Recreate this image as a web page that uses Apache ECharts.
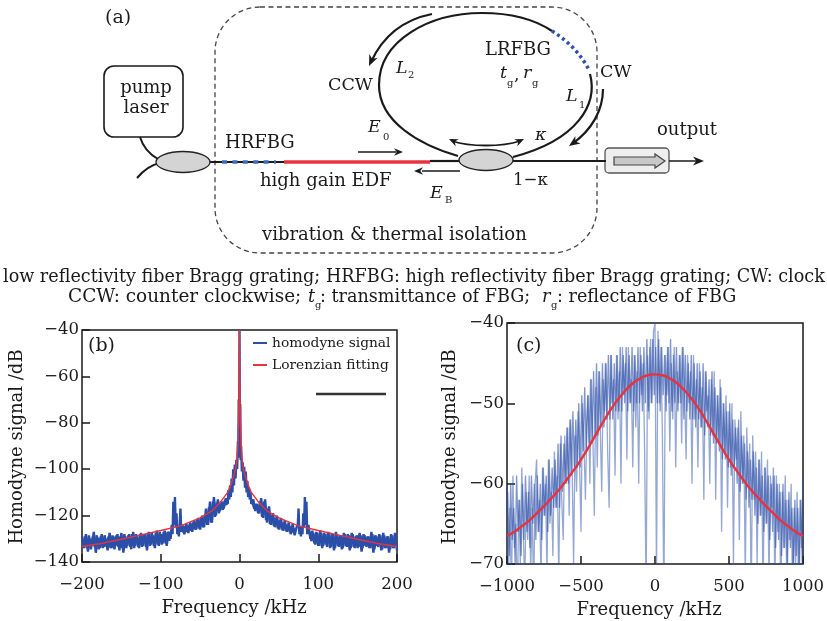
<!DOCTYPE html>
<html><head><meta charset="utf-8">
<style>html,body{margin:0;padding:0;background:#fff}#c{width:827px;height:621px}</style>
<script src="https://cdn.jsdelivr.net/npm/echarts@6/dist/echarts.min.js"></script>
</head><body><div id="c"></div>
<script>
const FONT='DejaVu Serif';
const homodyneB=[[-200,-129],[-197.5,-134],[-195,-128],[-192.5,-135.5],[-190,-130],[-187.5,-133],[-185,-127],[-182.5,-136],[-180,-129.5],[-177.5,-134],[-175,-128],[-172.5,-133.5],[-170,-130],[-167.5,-135],[-165,-127.5],[-162.5,-134],[-160,-129],[-157.5,-133],[-155,-128],[-152.5,-135],[-150,-127.5],[-147.5,-136],[-145,-129],[-142.5,-133],[-140,-128],[-137.5,-134.5],[-135,-127],[-132.5,-133],[-130,-129],[-127.5,-134],[-125,-127.5],[-122.5,-133],[-120,-128],[-117.5,-135],[-115,-127],[-112.5,-132.5],[-110,-128.5],[-107.5,-134],[-105,-126.5],[-102.5,-133],[-100,-128],[-97.5,-132],[-95,-126.5],[-92.5,-133],[-90,-127],[-87.5,-130],[-86,-124],[-85,-128],[-84,-114],[-83,-124],[-82,-112],[-81,-125],[-80,-119],[-79,-128],[-78,-125],[-77,-129],[-76,-124],[-75,-117],[-74,-127],[-72.5,-124],[-70,-128],[-67.5,-123.5],[-65,-127.5],[-62.5,-123],[-60,-127],[-57.5,-122],[-55,-126],[-52.5,-121],[-50,-126],[-47.5,-120],[-45,-125],[-42.5,-117],[-40,-124],[-37.5,-114],[-35,-123],[-32.5,-112],[-30,-120],[-27.5,-113],[-25,-118],[-22.5,-114],[-20,-117],[-17.5,-112.5],[-15,-115],[-14,-109],[-13,-113],[-12,-107],[-11,-112],[-10,-104],[-9,-110],[-8,-100],[-7,-107],[-6,-98],[-5,-104],[-4,-96],[-3,-100],[-2,-88],[-1.5,-95],[-1,-70],[-0.5,-85],[0,-40],[0.5,-85],[1,-72],[1.5,-96],[2,-90],[3,-101],[4,-97],[5,-105],[6,-99],[7,-108],[8,-101],[9,-110],[10,-105],[11,-112],[12,-108],[13,-113],[14,-110],[15,-115],[17.5,-113],[20,-118],[22.5,-115],[25,-119],[27.5,-112.5],[30,-121],[32.5,-113],[35,-123],[37.5,-116],[40,-124],[42.5,-119],[45,-125],[47.5,-120],[50,-126],[52.5,-121],[55,-126.5],[57.5,-122],[60,-127],[62.5,-123],[65,-128],[67.5,-123.5],[70,-128.5],[72.5,-125],[74,-124],[75,-117],[76,-128],[77,-125],[78,-129],[79,-125],[80,-128],[81,-119],[82,-125],[83,-112],[84,-124],[85,-114],[86,-128],[87.5,-124],[90,-130],[92.5,-126.5],[95,-132],[97.5,-127],[100,-133],[102.5,-126.5],[105,-134],[107.5,-127.5],[110,-132.5],[112.5,-127],[115,-134],[117.5,-128],[120,-135],[122.5,-127],[125,-133],[127.5,-128.5],[130,-134.5],[132.5,-127.5],[135,-133],[137.5,-128],[140,-135],[142.5,-127.5],[145,-133.5],[147.5,-129],[150,-134],[152.5,-127.5],[155,-135.5],[157.5,-128],[160,-133],[162.5,-129],[165,-134],[167.5,-127],[170,-136],[172.5,-128.5],[175,-133],[177.5,-128],[180,-135],[182.5,-127.5],[185,-134],[187.5,-129],[190,-136],[192.5,-128],[195,-134],[197.5,-127.5],[200,-135]];
const coreLeftB=[[-198.75,-134],[-196.25,-129],[-193.75,-134],[-191.25,-128.5],[-188.75,-134.5],[-186.25,-129],[-183.75,-133.5],[-181.25,-128.5],[-178.75,-134.5],[-176.25,-129],[-173.75,-134],[-171.25,-128.5],[-168.75,-133.5],[-166.25,-129],[-163.75,-134],[-161.25,-128.5],[-158.75,-134.5],[-156.25,-128.5],[-153.75,-133.5],[-151.25,-129],[-148.75,-134],[-146.25,-128],[-143.75,-134],[-141.25,-128.5],[-138.75,-133.5],[-136.25,-128],[-133.75,-134],[-131.25,-128],[-128.75,-133.5],[-126.25,-128],[-123.75,-133.5],[-121.25,-128],[-118.75,-133.5],[-116.25,-127.5],[-113.75,-133],[-111.25,-127.5],[-108.75,-133],[-106.25,-127.5],[-103.75,-132.5],[-101.25,-127],[-98.75,-132.5],[-96.25,-127],[-93.75,-132],[-91.25,-127],[-88.75,-131],[-80,'-'],[-71.25,-127.5],[-68.75,-124.5],[-66.25,-127],[-63.75,-124],[-61.25,-126.5],[-58.75,-123],[-56.25,-126],[-53.75,-122],[-51.25,-125.5],[-48.75,-121],[-46.25,-125],[-43.75,-119.5],[-41.25,-124],[-38.75,-116.5],[-36.25,-123],[-33.75,-114],[-31.25,-120.5],[-28.75,-114.5],[-26.25,-119],[-23.75,-115],[-21.25,-117.5],[-18.75,-113.5],[-16.25,-115.5]];
const coreRightB=[[16.25,-114],[18.75,-117],[21.25,-115],[23.75,-119],[26.25,-114],[28.75,-120.5],[31.25,-114],[33.75,-122],[36.25,-117],[38.75,-123.5],[41.25,-120],[43.75,-124.5],[46.25,-121],[48.75,-125.5],[51.25,-122],[53.75,-126],[56.25,-123],[58.75,-126.5],[61.25,-124],[63.75,-127],[66.25,-124.5],[68.75,-127.5],[71.25,-125.5],[80,'-'],[88.75,-127],[91.25,-131],[93.75,-127.5],[96.25,-132.5],[98.75,-127.5],[101.25,-133],[103.75,-127.5],[106.25,-133],[108.75,-128],[111.25,-133.5],[113.75,-127.5],[116.25,-133.5],[118.75,-128],[121.25,-134],[123.75,-128],[126.25,-133.5],[128.75,-128.5],[131.25,-134],[133.75,-128],[136.25,-133.5],[138.75,-128.5],[141.25,-134],[143.75,-128],[146.25,-134],[148.75,-128.5],[151.25,-133.5],[153.75,-128.5],[156.25,-134],[158.75,-128.5],[161.25,-133.5],[163.75,-129],[166.25,-134],[168.75,-128],[171.25,-134.5],[173.75,-129],[176.25,-133.5],[178.75,-128.5],[181.25,-134.5],[183.75,-128.5],[186.25,-134],[188.75,-129],[191.25,-134.5],[193.75,-128.5],[196.25,-134],[198.75,-128.5]];
const fitB=[[-200,-133.3],[-175,-132],[-150,-130.2],[-125,-128.3],[-100,-126.4],[-75,-124.4],[-50,-121],[-35,-118],[-25,-114.5],[-15,-110],[-10,-106],[-5,-100],[-3,-95],[-2,-89],[-1,-78],[-0.5,-65],[0,-40],[0.5,-65],[1,-78],[2,-89],[3,-95],[5,-100],[10,-106],[15,-110],[25,-114.5],[35,-118],[50,-121],[75,-124.4],[100,-126.4],[125,-128.3],[150,-130.2],[175,-132],[200,-133.3]];
const freqC=[-1000,-990,-980,-970,-960,-950,-940,-930,-920,-910,-900,-890,-880,-870,-860,-850,-840,-830,-820,-810,-800,-790,-780,-770,-760,-750,-740,-730,-720,-710,-700,-690,-680,-670,-660,-650,-640,-630,-620,-610,-600,-590,-580,-570,-560,-550,-540,-530,-520,-510,-500,-490,-480,-470,-460,-450,-440,-430,-420,-410,-400,-390,-380,-370,-360,-350,-340,-330,-320,-310,-300,-290,-280,-270,-260,-250,-240,-230,-220,-210,-200,-190,-180,-170,-160,-150,-140,-130,-120,-110,-100,-90,-80,-70,-60,-50,-40,-30,-20,-10,0,10,20,30,40,50,60,70,80,90,100,110,120,130,140,150,160,170,180,190,200,210,220,230,240,250,260,270,280,290,300,310,320,330,340,350,360,370,380,390,400,410,420,430,440,450,460,470,480,490,500,510,520,530,540,550,560,570,580,590,600,610,620,630,640,650,660,670,680,690,700,710,720,730,740,750,760,770,780,790,800,810,820,830,840,850,860,870,880,890,900,910,920,930,940,950,960,970,980,990,1000];
const signalC=[-60,-72,-63,-74,-59,-68,-65,-75,-62,-70,-58,-66,-73,-61,-67,-59,-71,-63,-74,-60,
-57,-66,-62,-72,-58,-64,-60,-71,-57,-65,-61,-69,-56,-63,-59,-72,-55,-62,-67,-54,
-60,-53,-64,-52,-58,-70,-54,-61,-51,-57,-66,-50,-55,-62,-52,-49,-60,-47,-54,-64,
-48,-58,-46,-53,-61,-47,-51,-45,-56,-63,-44,-50,-47,-59,-44,-52,-46,-60,-43,-49,
-45,-57,-43,-50,-47,-58,-44,-53,-46,-60,-43,-49,-45,-56,-74,-44,-52,-42,-50,-41,
-40,
-72,-41,-50,-43,-54,-75,-44,-49,-43,-56,-45,-52,-43,-58,-46,-50,-44,-55,-43,-48,
-57,-44,-50,-46,-60,-44,-52,-47,-58,-45,-53,-48,-62,-46,-51,-49,-60,-47,-54,-46,
-62,-49,-55,-47,-66,-50,-56,-49,-63,-51,-58,-50,-70,-52,-57,-53,-67,-51,-60,-54,
-72,-53,-60,-55,-75,-54,-62,-56,-70,-57,-64,-56,-74,-58,-65,-57,-72,-59,-63,-58,
-73,-59,-66,-60,-75,-61,-68,-59,-72,-62,-67,-60,-75,-63,-70,-61,-74,-62,-68,-59];
const freqCoreC=[-995,-985,-975,-965,-955,-945,-935,-925,-915,-905,-895,-885,-875,-865,-855,-845,-835,-825,-815,-805,-795,-785,-775,-765,-755,-745,-735,-725,-715,-705,-695,-685,-675,-665,-655,-645,-635,-625,-615,-605,-595,-585,-575,-565,-555,-545,-535,-525,-515,-505,-495,-485,-475,-465,-455,-445,-435,-425,-415,-405,-395,-385,-375,-365,-355,-345,-335,-325,-315,-305,-295,-285,-275,-265,-255,-245,-235,-225,-215,-205,-195,-185,-175,-165,-155,-145,-135,-125,-115,-105,-95,-85,-75,-65,-55,-45,-35,-25,-15,-5,5,15,25,35,45,55,65,75,85,95,105,115,125,135,145,155,165,175,185,195,205,215,225,235,245,255,265,275,285,295,305,315,325,335,345,355,365,375,385,395,405,415,425,435,445,455,465,475,485,495,505,515,525,535,545,555,565,575,585,595,605,615,625,635,645,655,665,675,685,695,705,715,725,735,745,755,765,775,785,795,805,815,825,835,845,855,865,875,885,895,905,915,925,935,945,955,965,975,985,995];
const coreC=[-61,-69,-60,-67,-63,-70,-59,-66,-62,-69,-60,-67,-59,-66,-61,-68,-59,-65,-60,-67,
-59,-66,-60,-67,-58,-64,-59,-66,-57,-64,-58,-63,-57,-63,-55,-63,-54,-61,-55,-60,
-53,-60,-52,-59,-51,-58,-52,-58,-50,-58,-49,-56,-48,-56,-49,-55,-47,-55,-46,-54,
-45,-54,-46,-53,-45,-53,-45,-52,-44,-52,-44,-52,-45,-51,-44,-51,-43,-51,-44,-50,
-43,-51,-44,-50,-43,-51,-44,-50,-43,-50,-44,-51,-43,-50,-42,-51,-43,-50,-42,-49,
-43,-50,-42,-51,-43,-49,-44,-51,-43,-50,-42,-51,-44,-50,-43,-51,-44,-50,-43,-52,
-44,-51,-45,-52,-44,-52,-45,-53,-45,-52,-46,-53,-45,-54,-46,-53,-47,-54,-46,-55,
-48,-55,-49,-56,-48,-57,-50,-57,-51,-58,-50,-59,-52,-58,-53,-60,-52,-61,-54,-60,
-55,-62,-56,-63,-57,-62,-56,-64,-58,-65,-57,-64,-59,-66,-58,-65,-59,-67,-60,-66,
-59,-68,-60,-67,-61,-69,-60,-68,-62,-70,-61,-68,-63,-71,-62,-69,-63,-71,-62,-70];
const fitC=[[-1000,-66.5],[-950,-66],[-900,-65.3],[-850,-64.6],[-800,-63.7],[-750,-62.8],[-700,-61.8],[-650,-60.8],[-600,-59.6],[-550,-58.35],[-500,-57],[-450,-55.5],[-400,-53.9],[-350,-52.3],[-300,-50.8],[-250,-49.5],[-200,-48.4],[-150,-47.5],[-100,-46.9],[-50,-46.5],[0,-46.4],[50,-46.5],[100,-46.9],[150,-47.5],[200,-48.4],[250,-49.5],[300,-50.8],[350,-52.3],[400,-53.9],[450,-55.5],[500,-57],[550,-58.35],[600,-59.6],[650,-60.8],[700,-61.8],[750,-62.8],[800,-63.7],[850,-64.6],[900,-65.3],[950,-66],[1000,-66.5]];
const BLUE='#2b4fa8',RED='#e8333f',INK='#1a1a1a';
const fmt=v=>String(v).replace('-','\u2212');

function T(text,x,y,size,o){o=o||{};return {type:'text',x:x,y:y,scaleX:o.sx||1,z:20,style:{text:text,fontFamily:FONT,fontSize:size,fontStyle:o.it?'italic':'normal',fill:INK,textAlign:o.a||'left',textVerticalAlign:'middle'}};}
function sty(o){o=o||{};return {fill:'none',stroke:o.stroke||INK,lineWidth:o.w||2,lineDash:o.dash};}
function L(x1,y1,x2,y2,o){o=o||{};return {type:'line',z:o.z||10,shape:{x1,y1,x2,y2},style:sty(o)};}
function B(x1,y1,cpx1,cpy1,cpx2,cpy2,x2,y2,o){o=o||{};return {type:'bezierCurve',z:o.z||10,shape:{x1,y1,cpx1,cpy1,cpx2,cpy2,x2,y2},style:sty(o)};}
function H(x,y,dx,dy,s){
  const l=Math.hypot(dx,dy);dx/=l;dy/=l;s=s||9;const w=s*0.42;
  const bx=x-dx*s,by=y-dy*s,nx=x-dx*s*0.7,ny=y-dy*s*0.7;
  return {type:'polygon',z:11,shape:{points:[[x,y],[bx-dy*w,by+dx*w],[nx,ny],[bx+dy*w,by-dx*w]]},style:{fill:INK}};
}
const schematic=[
 {type:'rect',z:5,shape:{x:215,y:7,width:382,height:246,r:45},style:{fill:'none',stroke:'#444',lineWidth:1.3,lineDash:[5,3.5]}},
 {type:'rect',z:6,shape:{x:104,y:66,width:79,height:71,r:10},style:{fill:'#fff',stroke:INK,lineWidth:1.6}},
 B(140,137,143,147,149,154,158,159),B(137,178,143,171,150,165,160,163),
 L(205,162,284,162),
 L(222,162,276,162,{stroke:'#3a6cb8',w:3.5,dash:[5,5.4],z:11}),
 L(284,162,430,162,{stroke:RED,w:3.6,z:11}),
 L(430,161,462,161,{w:2.2}),L(510,161,606,161,{w:2.2}),
 B(458,156,420,145,379,122,379,85,{w:2.2}),B(379,85,379,40,430,13,482,13,{w:2.2}),B(482,13,515,13,537,21,552,31,{w:2.2}),
 B(552,31,567,40,581,54,589,70,{stroke:'#2b50b0',w:3.5,dash:[3,3.2],z:11}),
 B(590,74,598,104,578,140,513,157,{w:2.2}),
 {type:'ellipse',z:12,shape:{cx:183,cy:162,rx:27,ry:10.5},style:{fill:'#d4d4d4',stroke:'#222',lineWidth:1.3}},
 {type:'ellipse',z:12,shape:{cx:486,cy:160,rx:27,ry:10.5},style:{fill:'#d4d4d4',stroke:'#222',lineWidth:1.3}},
 B(432,14,402,20,382,38,371,62,{w:2.2}),H(369,66,-0.45,1,11),
 B(603,89,603,110,592,130,572,144,{w:2.2}),H(569,146,-1,0.7,11),
 B(452,141,470,147,502,147,520,141,{w:1.8}),H(449,139,-1,-0.45,9),H(524,139,1,-0.45,9),
 L(358,152,396,152,{w:1.5}),H(403,152,1,0,9),
 L(460,171,422,171,{w:1.5}),H(414,171,-1,0,9),
 {type:'rect',z:6,shape:{x:605,y:148,width:64,height:25,r:4},style:{fill:'#eeeeee',stroke:'#555',lineWidth:1.3}},
 {type:'polygon',z:7,shape:{points:[[614,157],[655,157],[655,154],[665,161],[655,168],[655,165],[614,165]]},style:{fill:'#c8c8c8',stroke:'#444',lineWidth:1.2}},
 L(669,161,697,161,{w:1.5}),H(704,161,1,0,11),
 T('(a)',105,18,19),
 T('pump',146,88,18,{a:'center'}),T('laser',146,108,18,{a:'center'}),
 T('HRFBG',225,143,18),T('high gain EDF',260,181,18),
 T('CCW',328,85,17.5),T('L',396,68,17.5,{it:1}),T('2',408,75,10),
 T('E',368,127,17.5,{it:1}),T('0',383,137,10),
 T('E',430,193,17.5,{it:1}),T('B',445,200,10),
 T('LRFBG',485,50,18),T('t',500,73,17.5,{it:1}),T('g',507,83,10),T(',',514,75,17.5),T('r',523,73,17.5,{it:1}),T('g',532,83,10),
 T('L',566,96,17.5,{it:1}),T('1',579,105,10),T('CW',600,72,17.5),
 T('\u03ba',535,135,17.5,{it:1}),T('1\u2212\u03ba',513,180,17.5,{sx:0.95}),
 T('output',657,130,18),
 T('vibration & thermal isolation',262,235,18),
 T('low reflectivity fiber Bragg grating; HRFBG: high reflectivity fiber Bragg grating; CW: clock',3,277,17.6),
 T('CCW: counter clockwise;',68,297,17.6,{sx:1.05}),T('t',308,297,17.6,{it:1}),T('g',315,305,10),
 T(': transmittance of FBG;',320,297,17.6),T('r',542,297,17.6,{it:1}),T('g',551,305,10),
 T(': reflectance of FBG',557,297,17.6),
 T('(b)',88,346,19),T('(c)',516,346,19),
 L(316,394,386,394,{stroke:'#333',w:2.4,z:20})
];
const axisCommon=(name,min,max,interval,gap,margin,pad,extra)=>Object.assign({type:'value',min,max,interval,name,nameLocation:'middle',nameGap:gap,
  nameTextStyle:{fontFamily:FONT,fontSize:18,color:INK,padding:pad},
  axisLine:{show:false,onZero:false},axisTick:{show:true,inside:true,length:8,lineStyle:{color:INK,width:1.5}},
  splitLine:{show:false},axisLabel:{fontFamily:FONT,fontSize:16.5,color:INK,margin,formatter:fmt,showMinLabel:true,showMaxLabel:true}},extra||{});
const band=(name,data,xi,w,op)=>({name,type:'line',xAxisIndex:xi,yAxisIndex:xi,data,connectNulls:false,showSymbol:false,symbol:'none',lineStyle:{color:BLUE,width:w,opacity:op},itemStyle:{color:BLUE},z:4});
const option={
 animation:false,backgroundColor:'#fff',
 graphic:{elements:schematic},
 legend:{data:['homodyne signal','Lorenzian fitting'],orient:'vertical',left:248,top:331,itemWidth:14,itemHeight:2,itemGap:8,icon:'rect',
   textStyle:{fontFamily:FONT,fontSize:13.8,color:INK},selectedMode:false},
 grid:[{left:82,right:430,top:330,height:232,show:true,borderColor:INK,borderWidth:1.5,z:3},
       {left:507,right:23,top:323,height:241,show:true,borderColor:INK,borderWidth:1.5,z:3}],
 xAxis:[axisCommon('Frequency /kHz',-200,200,100,37,14,[0,11,0,0],{gridIndex:0}),axisCommon('Frequency /kHz',-1000,1000,500,37,14,[0,12,0,0],{gridIndex:1})],
 yAxis:[axisCommon('Homodyne signal /dB',-140,-40,20,56,3,[0,2,0,0],{gridIndex:0}),axisCommon('Homodyne signal /dB',-70,-40,10,48,3,[0,7,0,0],{gridIndex:1})],
 series:[
  band('homodyne signal',homodyneB,0,2.4,1),
  band('homodyne signal',coreLeftB,0,2.4,1),
  band('homodyne signal',coreRightB,0,2.4,1),
  {name:'Lorenzian fitting',type:'line',xAxisIndex:0,yAxisIndex:0,data:fitB,showSymbol:false,symbol:'none',lineStyle:{color:RED,width:1.4},itemStyle:{color:RED},z:5},
  band('homodyne signal',freqC.map((f,i)=>[f,signalC[i]]),1,1.3,0.5),
  band('homodyne signal',freqCoreC.map((f,i)=>[f,coreC[i]]),1,1.3,0.6),
  {name:'Lorenzian fitting',type:'line',xAxisIndex:1,yAxisIndex:1,data:fitC,smooth:true,showSymbol:false,symbol:'none',lineStyle:{color:RED,width:2.4},z:5}
 ]
};
echarts.init(document.getElementById('c')).setOption(option);
</script></body></html>
